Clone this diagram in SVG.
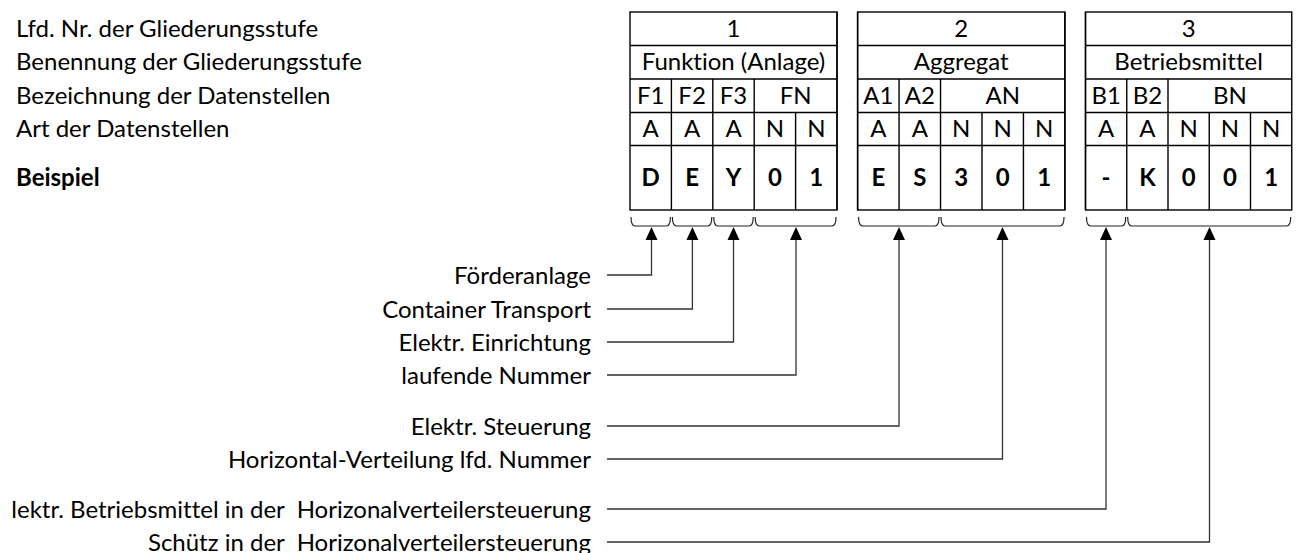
<svg xmlns="http://www.w3.org/2000/svg" width="1296" height="553" viewBox="0 0 1296 553">
<style>
text{font-family:Lato,"Liberation Sans",sans-serif;font-size:24px;fill:#000;font-variant-ligatures:none;font-feature-settings:"liga" 0}
.c{text-anchor:middle}
.r{text-anchor:end;white-space:pre}
.b{font-weight:bold}
.tb{fill:none;stroke:#000;stroke-width:1.4}
.br{fill:none;stroke:#222;stroke-width:1.2}
.cn{fill:none;stroke:#333;stroke-width:1.3}
.ah{fill:#000}
</style>
<rect width="1296" height="553" fill="#fff"/>
<g id="row-labels">
<text x="16" y="36.5">Lfd. Nr. der Gliederungsstufe</text>
<text x="16" y="70">Benennung der Gliederungsstufe</text>
<text x="16" y="103.5">Bezeichnung der Datenstellen</text>
<text x="16" y="137">Art der Datenstellen</text>
<text x="16" y="186" class="b">Beispiel</text>
</g>
<g id="group1" transform="translate(630,0)">
<rect class="tb" x="0" y="12" width="207" height="198"/>
<path class="tb" d="M0 45.5H207M0 79H207M0 112.5H207M0 145.5H207M41.4 79V210M82.8 79V210M124.2 79V210M165.6 112.5V210"/>
<text class="c" x="103.5" y="36.5">1</text>
<text class="c" x="103.5" y="70">Funktion (Anlage)</text>
<text class="c" x="20.7" y="103.5">F1</text><text class="c" x="62.1" y="103.5">F2</text><text class="c" x="103.5" y="103.5">F3</text><text class="c" x="165.6" y="103.5">FN</text>
<text class="c" x="20.7" y="137">A</text><text class="c" x="62.1" y="137">A</text><text class="c" x="103.5" y="137">A</text><text class="c" x="144.9" y="137">N</text><text class="c" x="186.3" y="137">N</text>
<text class="c b" x="20.7" y="186">D</text><text class="c b" x="62.1" y="186">E</text><text class="c b" x="103.5" y="186">Y</text><text class="c b" x="144.9" y="186">0</text><text class="c b" x="186.3" y="186">1</text>
</g>
<g id="gap1"><path class="tb" d="M837 12V210M857.6 12V210"/></g>
<g id="group2" transform="translate(857.6,0)">
<rect class="tb" x="0" y="12" width="207.3" height="198"/>
<path class="tb" d="M0 45.5H207.3M0 79H207.3M0 112.5H207.3M0 145.5H207.3M41.46 79V210M82.92 79V210M124.38 112.5V210M165.84 112.5V210"/>
<text class="c" x="103.65" y="36.5">2</text>
<text class="c" x="103.65" y="70">Aggregat</text>
<text class="c" x="20.73" y="103.5">A1</text><text class="c" x="62.19" y="103.5">A2</text><text class="c" x="145.1" y="103.5">AN</text>
<text class="c" x="20.73" y="137">A</text><text class="c" x="62.19" y="137">A</text><text class="c" x="103.65" y="137">N</text><text class="c" x="145.1" y="137">N</text><text class="c" x="186.6" y="137">N</text>
<text class="c b" x="20.73" y="186">E</text><text class="c b" x="62.19" y="186">S</text><text class="c b" x="103.65" y="186">3</text><text class="c b" x="145.1" y="186">0</text><text class="c b" x="186.6" y="186">1</text>
</g>
<g id="gap2"><path class="tb" d="M1064.9 12V210M1085.5 12V210"/></g>
<g id="group3" transform="translate(1085.5,0)">
<rect class="tb" x="0" y="12" width="206.25" height="198"/>
<path class="tb" d="M0 45.5H206.25M0 79H206.25M0 112.5H206.25M0 145.5H206.25M41.25 79V210M82.5 79V210M123.75 112.5V210M165 112.5V210"/>
<text class="c" x="103.1" y="36.5">3</text>
<text class="c" x="103.1" y="70">Betriebsmittel</text>
<text class="c" x="20.6" y="103.5">B1</text><text class="c" x="61.9" y="103.5">B2</text><text class="c" x="144.4" y="103.5">BN</text>
<text class="c" x="20.6" y="137">A</text><text class="c" x="61.9" y="137">A</text><text class="c" x="103.1" y="137">N</text><text class="c" x="144.4" y="137">N</text><text class="c" x="185.6" y="137">N</text>
<text class="c b" x="20.6" y="186">-</text><text class="c b" x="61.9" y="186">K</text><text class="c b" x="103.1" y="186">0</text><text class="c b" x="144.4" y="186">0</text><text class="c b" x="185.6" y="186">1</text>
</g>
<g id="braces">
<path class="br" d="M631 217Q631 226 635 226H666.4Q670.4 226 670.4 217M672.4 217Q672.4 226 676.4 226H707.8Q711.8 226 711.8 217M713.8 217Q713.8 226 717.8 226H749.2Q753.2 226 753.2 217M755.2 217Q755.2 226 759.2 226H832Q836 226 836 217"/>
<path class="br" d="M858.6 217Q858.6 226 862.6 226H935Q939 226 939 217M941 217Q941 226 945 226H1060Q1064 226 1064 217"/>
<path class="br" d="M1086.5 217Q1086.5 226 1090.5 226H1121.7Q1125.7 226 1125.7 217M1127.7 217Q1127.7 226 1131.7 226H1286.7Q1290.7 226 1290.7 217"/>
</g>
<g id="labels">
<text class="r" x="591" y="283.5">Förderanlage</text>
<text class="r" x="591" y="317.5">Container Transport</text>
<text class="r" x="591" y="350.5">Elektr. Einrichtung</text>
<text class="r" x="591" y="383.5">laufende Nummer</text>
<text class="r" x="591" y="434.5">Elektr. Steuerung</text>
<text class="r" x="591" y="467.5">Horizontal-Verteilung lfd. Nummer</text>
<text class="r" x="591" y="517.5">lektr. Betriebsmittel in der  Horizonalverteilersteuerung</text>
<text class="r" x="591" y="550.5">Schütz in der  Horizonalverteilersteuerung</text>
</g>
<g id="connectors">
<path class="cn" d="M607 275H651.5V239"/>
<path class="cn" d="M607 309H692.4V239"/>
<path class="cn" d="M607 342H733.5V239"/>
<path class="cn" d="M607 375H796V239"/>
<path class="cn" d="M607 426H899V239"/>
<path class="cn" d="M607 459H1002.5V239"/>
<path class="cn" d="M607 509H1106V239"/>
<path class="cn" d="M607 542H1209.5V239"/>
<path class="ah" d="M651.5 227L645.5 240H657.5ZM692.4 227L686.4 240H698.4ZM733.5 227L727.5 240H739.5ZM796 227L790 240H802ZM899 227L893 240H905ZM1002.5 227L996.5 240H1008.5ZM1106 227L1100 240H1112ZM1209.5 227L1203.5 240H1215.5Z"/>
</g>
</svg>
